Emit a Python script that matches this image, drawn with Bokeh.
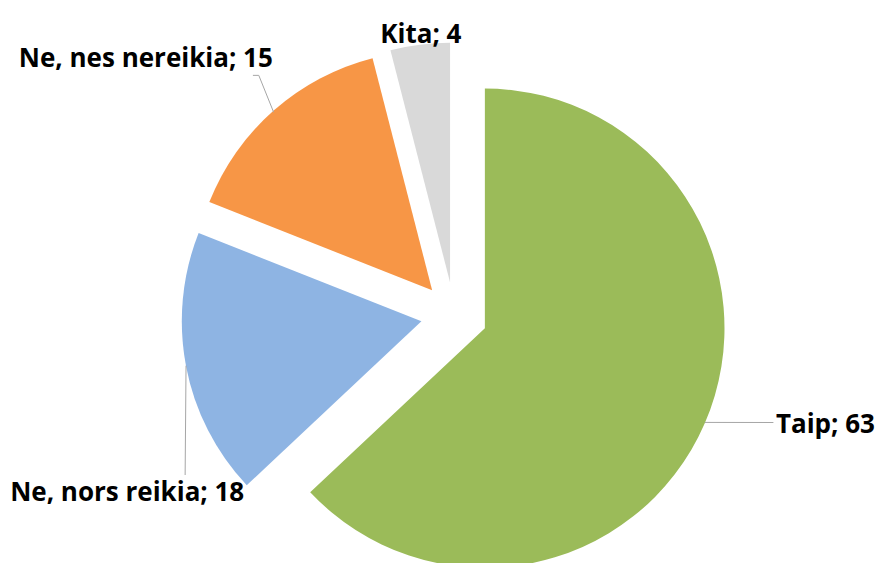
import numpy as np
from bokeh.plotting import figure
from bokeh.models import Range1d
from bokeh.core.properties import value
from bokeh.embed import file_html
from bokeh.resources import INLINE

# ---- data ----
categories = ["Taip", "Ne, nors reikia", "Ne, nes nereikia", "Kita"]
values = [63, 18, 15, 4]
colors = ["#9BBB59", "#8EB4E3", "#F79646", "#D9D9D9"]

# ---- layout (reference pixel space, y pointing down) ----
W, H = 893, 579
CX, CY = 462, 323.5      # common pie centre
R = 244                   # radius
EXPLODE = 34              # explosion distance
label_xy = [(840, 435), (129, 504), (148, 58), (428, 33)]   # text baseline centres
leader_pts = [[(787, 434)], [(188, 488)], [(263, 77), (257, 77)], []]

FW, FH = 877, 563

p = figure(width=FW, height=FH, output_backend="svg", toolbar_location=None,
           x_range=Range1d(0, W), y_range=Range1d(0, H),
           x_axis_location=None, y_axis_location=None, min_border=0,
           outline_line_color=None, background_fill_color="white")
p.grid.visible = False

vals = np.array(values, dtype=float)
frac = vals / vals.sum()
cum_after = np.cumsum(frac)
cum_before = cum_after - frac
a_start = np.deg2rad(90 - cum_before * 360)   # clockwise from top
a_end = np.deg2rad(90 - cum_after * 360)
mid = (a_start + a_end) / 2

cx = CX + EXPLODE * np.cos(mid)
cy = (H - CY) + EXPLODE * np.sin(mid)

p.wedge(x=cx, y=cy, radius=R, start_angle=a_end, end_angle=a_start,
        direction="anticlock", fill_color=colors, line_color=None)

# leader lines from arc midpoint to labels
for i in range(len(values)):
    if not leader_pts[i]:
        continue
    xs = [cx[i] + R * np.cos(mid[i])] + [pt[0] for pt in leader_pts[i]]
    ys = [cy[i] + R * np.sin(mid[i])] + [H - pt[1] for pt in leader_pts[i]]
    p.line(xs, ys, line_color="#A6A6A6", line_width=1)

texts = [f"{c}; {v}" for c, v in zip(categories, values)]
p.text(x=[l[0] for l in label_xy], y=[H - l[1] for l in label_xy], text=texts,
       text_font=value("Open Sans"), text_font_style="bold", text_font_size="26px",
       text_align="center", text_baseline="alphabetic", text_color="black")

open("out.html", "w").write(file_html(p, INLINE))
